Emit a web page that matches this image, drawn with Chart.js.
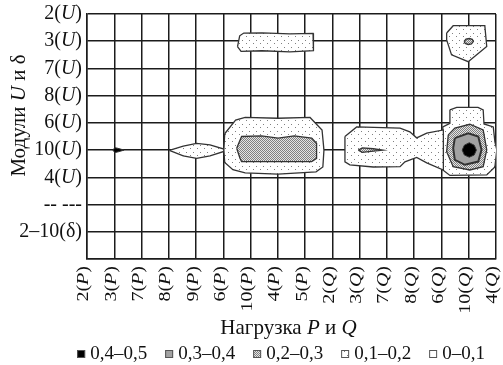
<!DOCTYPE html>
<html>
<head>
<meta charset="utf-8">
<script src="https://cdn.jsdelivr.net/npm/chart.js@4.4.0/dist/chart.umd.min.js"></script>
<style>
  html, body { margin: 0; padding: 0; background: #fff; }
  #wrap { width: 503px; height: 365px; }
</style>
</head>
<body>
<div id="wrap"><canvas id="myChart"></canvas></div>
<script>
// axis categories (x: loads, y: node modules)
var xLabels = ['2(P)', '3(P)', '7(P)', '8(P)', '9(P)', '6(P)', '10(P)', '4(P)', '5(P)',
               '2(Q)', '3(Q)', '7(Q)', '8(Q)', '6(Q)', '10(Q)', '4(Q)'];
var yLabels = ['', '2–10(δ)', '-- ---', '4(U)', '10(U)', '6(U)', '8(U)', '7(U)', '3(U)', '2(U)'];
var levelLabels = ['0,4–0,5', '0,3–0,4', '0,2–0,3', '0,1–0,2', '0–0,1'];

// contour regions, [x index, y index]
// level 0,1-0,2
var zone1 = [
  [[5.05,4.60],[5.45,5.10],[5.80,5.20],[7.00,5.17],[8.18,5.20],[8.62,4.74],[8.69,4.00],[8.65,3.38],[8.40,3.20],[7.00,3.12],[5.80,3.16],[5.35,3.28],[5.05,3.55],[5.02,4.00]],
  [[5.52,7.80],[5.60,8.20],[5.75,8.30],[6.42,8.31],[7.44,8.27],[8.29,8.29],[8.32,7.94],[8.29,7.65],[7.44,7.61],[6.42,7.65],[5.65,7.63]],
  [[3.02,3.99],[3.53,4.15],[4.02,4.25],[4.51,4.19],[5.02,4.04],[5.02,3.95],[4.51,3.79],[4.02,3.70],[3.53,3.79]],
  [[9.46,4.50],[9.89,4.85],[11.48,4.81],[11.84,4.67],[12.09,4.45],[12.46,4.62],[13.07,4.74],[13.07,3.27],[12.46,3.53],[12.09,3.73],[11.66,3.57],[11.48,3.39],[10.50,3.38],[9.64,3.46],[9.46,3.57]],
  [[13.31,5.48],[13.56,5.57],[14.34,5.57],[14.53,5.48],[14.56,4.96],[14.90,4.85],[14.96,4.30],[15.03,4.01],[14.96,3.38],[14.66,3.09],[13.31,3.07],[13.05,3.27],[13.05,4.85],[13.31,4.98]],
  [[13.19,8.30],[13.43,8.57],[14.59,8.57],[14.66,7.81],[13.98,7.25],[13.37,7.50],[13.19,8.05]]
];
// level 0,2-0,3
var zone2 = [
  [[5.49,4.07],[5.67,4.50],[6.40,4.52],[7.01,4.44],[7.60,4.52],[8.24,4.44],[8.42,4.25],[8.42,3.70],[8.24,3.58],[5.67,3.58],[5.61,3.70]],
  [[13.25,4.56],[13.49,4.81],[14.04,4.95],[14.53,4.74],[14.66,4.01],[14.53,3.39],[14.04,3.27],[13.43,3.39],[13.19,3.94]],
  [[13.83,7.99],[13.90,8.08],[14.02,8.10],[14.13,8.07],[14.17,7.99],[14.10,7.90],[13.98,7.88],[13.87,7.92]],
  [[9.95,4.00],[10.10,4.08],[10.50,4.05],[10.85,4.00],[10.50,3.96],[10.10,3.92]]
];
// level 0,3-0,4
var zone3 = [
  [[13.49,4.44],[13.98,4.62],[14.35,4.50],[14.47,4.01],[14.35,3.58],[13.86,3.46],[13.49,3.64],[13.43,4.07]]
];
// level 0,4-0,5
var zone4 = [
  [[14.28,4.00],[14.20,4.18],[14.02,4.27],[13.84,4.18],[13.76,4.00],[13.84,3.82],[14.02,3.74],[14.20,3.82]],
  [[0.95,4.00],[1.02,4.09],[1.12,4.07],[1.36,4.00],[1.12,3.93],[1.02,3.91]]
];

var FONT = '"Liberation Serif", "DejaVu Serif", serif';

function makeTile(size, bg, dots) {
  var c = document.createElement('canvas');
  c.width = size; c.height = size;
  var g = c.getContext('2d');
  g.fillStyle = bg;
  g.fillRect(0, 0, size, size);
  g.fillStyle = '#808080';
  for (var i = 0; i < dots.length; i++) {
    g.fillRect(dots[i][0], dots[i][1], 1, 1);
  }
  return g.createPattern(c, 'repeat');
}

var dotFill = makeTile(7, '#ffffff', [[1,1],[4,5]]);
var hatchFill = makeTile(2, '#e4e4e4', [[0,0],[1,1]]);
var greyFill = '#a2a2a2';
var blackFill = '#000000';

function toPoints(poly) {
  var pts = poly.map(function(p){ return {x: p[0], y: p[1]}; });
  pts.push({x: poly[0][0], y: poly[0][1]});
  return pts;
}

function buildSets(zones, fill, width, order) {
  return zones.map(function(poly){
    return {
      data: toPoints(poly),
      showLine: true,
      fill: 'shape',
      backgroundColor: fill,
      borderColor: '#333333',
      borderWidth: width,
      pointRadius: 0,
      tension: 0,
      order: order
    };
  });
}

var datasets = []
  .concat(buildSets(zone4, blackFill, 1, 0))
  .concat(buildSets(zone3, greyFill, 2, 1))
  .concat(buildSets(zone2, hatchFill, 1.3, 2))
  .concat(buildSets(zone1, dotFill, 1.3, 3));

function splitRuns(text) {
  var runs = [], cur = '', curIt = null;
  for (var i = 0; i < text.length; i++) {
    var ch = text[i];
    var it = (ch === 'U' || ch === 'P' || ch === 'Q');
    if (curIt === null || it === curIt) {
      cur += ch; curIt = it;
    } else {
      runs.push({t: cur, it: curIt});
      cur = ch; curIt = it;
    }
  }
  if (cur) runs.push({t: cur, it: curIt});
  return runs;
}

function drawMixed(ctx, text, x, y, size, align) {
  var runs = splitRuns(text), total = 0;
  runs.forEach(function(r){
    ctx.font = (r.it ? 'italic ' : '') + size + 'px ' + FONT;
    r.w = ctx.measureText(r.t).width;
    total += r.w;
  });
  var sx = x;
  if (align === 'right') sx = x - total;
  if (align === 'center') sx = x - total / 2;
  ctx.textAlign = 'left';
  ctx.textBaseline = 'middle';
  runs.forEach(function(r){
    ctx.font = (r.it ? 'italic ' : '') + size + 'px ' + FONT;
    ctx.fillText(r.t, sx, y);
    sx += r.w;
  });
}

var labelPlugin = {
  id: 'labels',
  afterDraw: function(chart) {
    var ctx = chart.ctx;
    var xs = chart.scales.x, ys = chart.scales.y;
    var area = chart.chartArea;
    ctx.save();
    ctx.fillStyle = '#111';

    // y tick labels
    for (var j = 0; j < yLabels.length; j++) {
      if (!yLabels[j]) continue;
      drawMixed(ctx, yLabels[j], area.left - 5, ys.getPixelForValue(j), 20, 'right');
    }

    // x tick labels, rotated
    for (var i = 0; i < xLabels.length; i++) {
      ctx.save();
      ctx.translate(xs.getPixelForValue(i) - 3, area.bottom + 7);
      ctx.rotate(-Math.PI / 2);
      ctx.scale(1, 0.85);
      drawMixed(ctx, xLabels[i], 0, 0, 20, 'right');
      ctx.restore();
    }

    // axis titles
    drawMixed(ctx, 'Нагрузка P и Q', (area.left + area.right) / 2 - 3, area.bottom + 69, 21, 'center');
    ctx.save();
    ctx.translate(19, (area.top + area.bottom) / 2 - 21);
    ctx.rotate(-Math.PI / 2);
    drawMixed(ctx, 'Модули U и δ', 0, 0, 21, 'center');
    ctx.restore();

    // legend
    var swatches = [blackFill, greyFill, hatchFill, dotFill, '#ffffff'];
    var box = 8, gap = 5, spacing = 18;
    ctx.font = '19px ' + FONT;
    var widths = levelLabels.map(function(t){ return ctx.measureText(t).width; });
    var total = 0;
    for (var k = 0; k < widths.length; k++) total += box + gap + widths[k];
    total += spacing * (widths.length - 1);
    var lx = 281 - total / 2, ly = 354;
    for (var k = 0; k < levelLabels.length; k++) {
      ctx.fillStyle = swatches[k];
      ctx.fillRect(lx, ly - box / 2, box, box);
      ctx.strokeStyle = '#555';
      ctx.lineWidth = 1;
      ctx.strokeRect(lx + 0.5, ly - box / 2 + 0.5, box - 1, box - 1);
      ctx.fillStyle = '#111';
      ctx.font = '19px ' + FONT;
      ctx.textAlign = 'left';
      ctx.textBaseline = 'middle';
      ctx.fillText(levelLabels[k], lx + box + gap, ly);
      lx += box + gap + widths[k] + spacing;
    }
    ctx.restore();
  }
};

var ctx = document.getElementById('myChart').getContext('2d');
var chart = new Chart(ctx, {
  type: 'scatter',
  data: { datasets: datasets },
  options: {
    responsive: true,
    maintainAspectRatio: false,
    animation: false,
    layout: { padding: { left: 87, right: 7, top: 14, bottom: 106 } },
    plugins: {
      legend: { display: false },
      tooltip: { enabled: false }
    },
    scales: {
      x: {
        type: 'linear',
        min: 0, max: 15,
        z: 1,
        ticks: { display: false, stepSize: 1 },
        grid: { color: '#1c1c1c', lineWidth: 1.5, drawTicks: false },
        border: { color: '#1c1c1c', width: 1.5 }
      },
      y: {
        type: 'linear',
        min: 0, max: 9,
        z: 1,
        ticks: { display: false, stepSize: 1 },
        grid: { color: '#1c1c1c', lineWidth: 1.5, drawTicks: false },
        border: { color: '#1c1c1c', width: 1.5 }
      }
    }
  },
  plugins: [labelPlugin]
});
</script>
</body>
</html>
